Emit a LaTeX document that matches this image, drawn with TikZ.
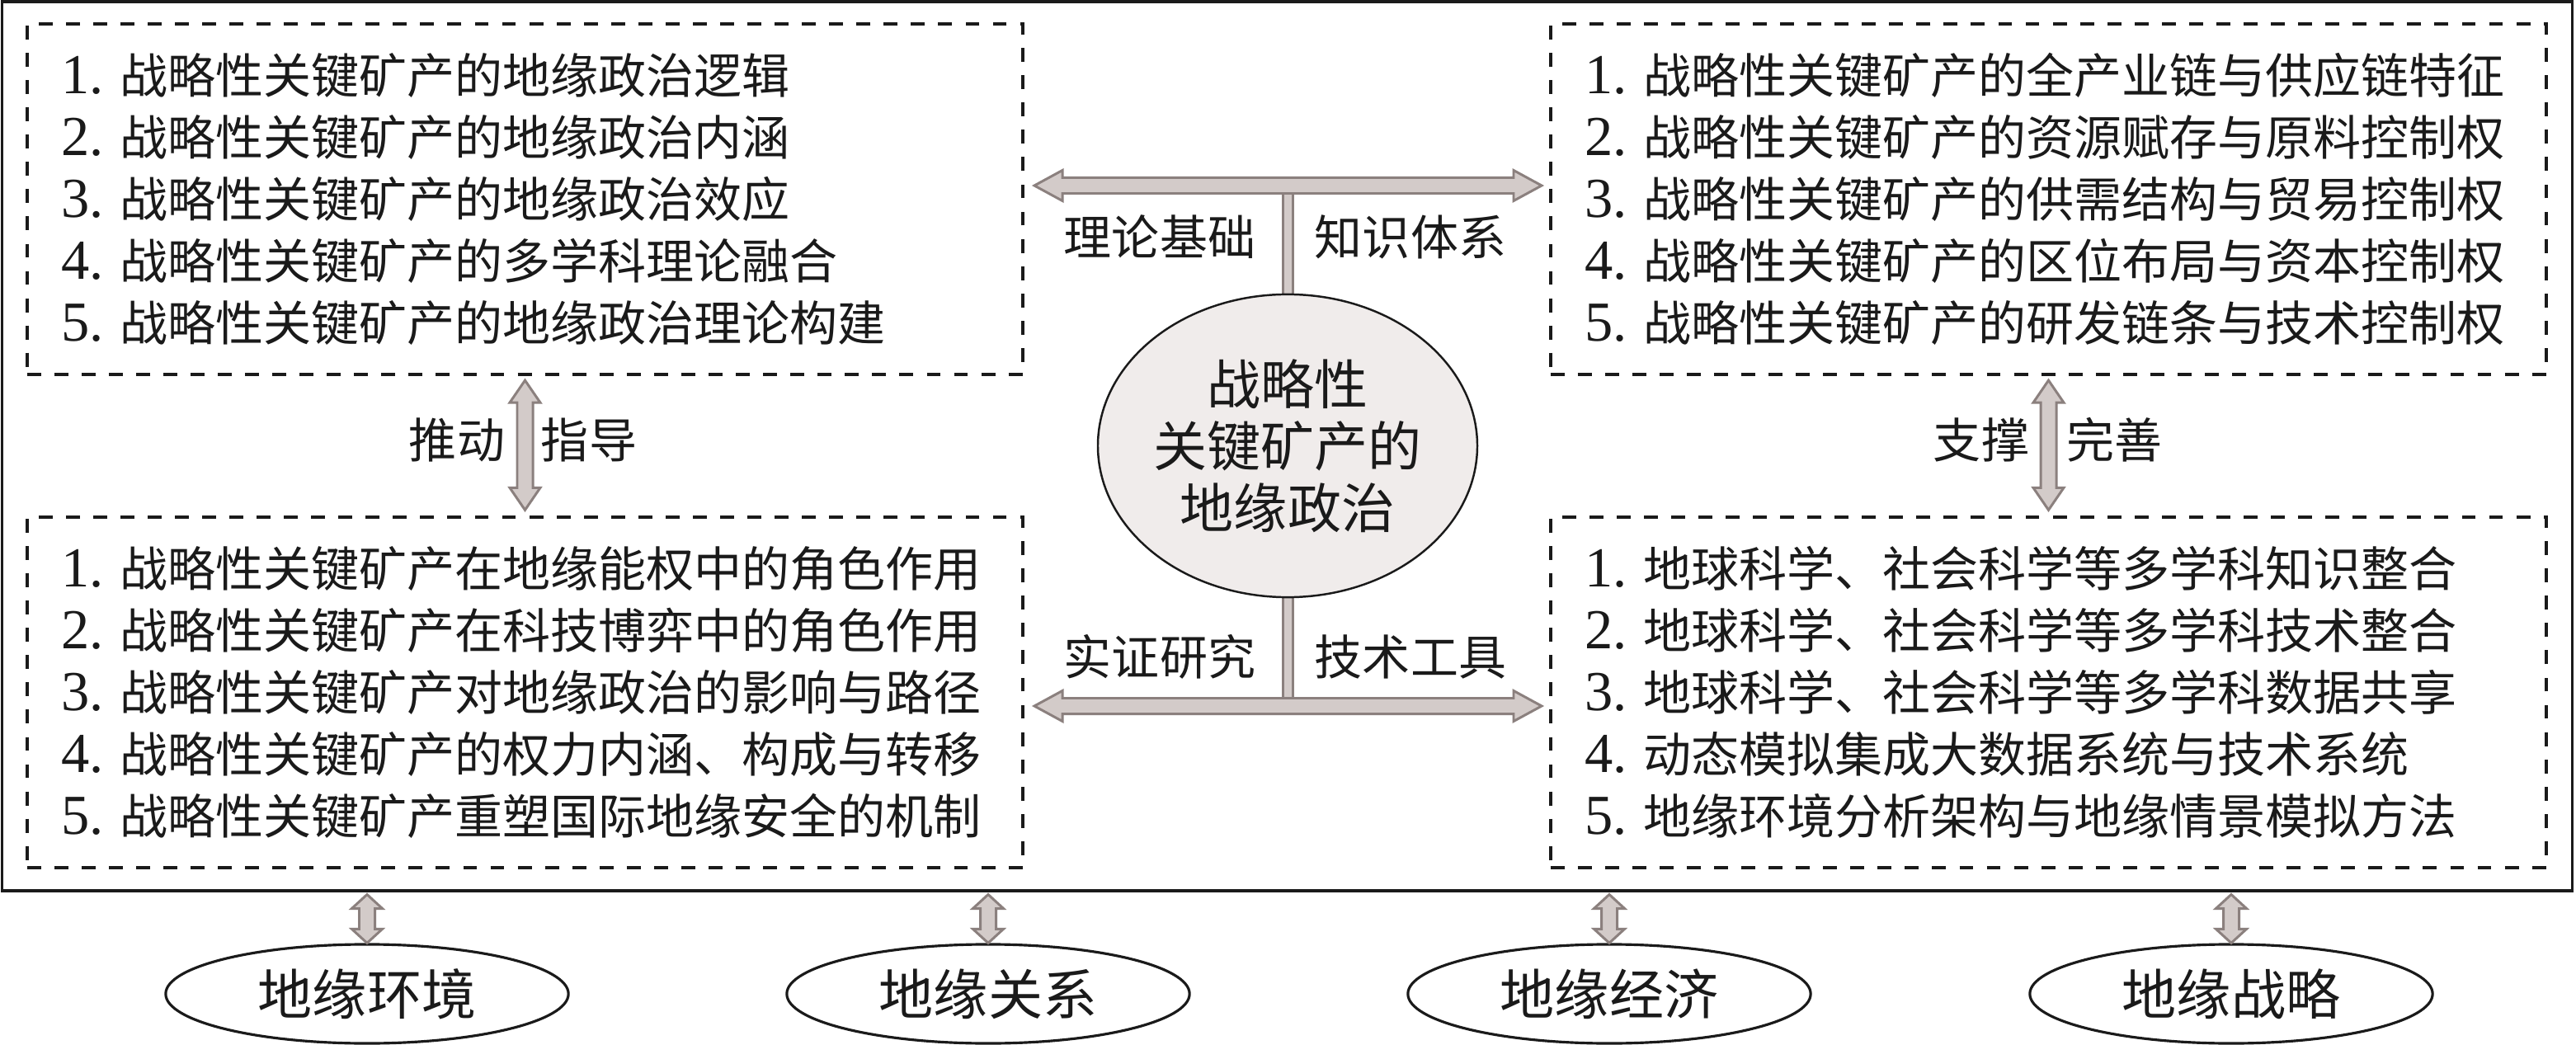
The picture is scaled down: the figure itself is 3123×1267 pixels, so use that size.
\documentclass[tikz,border=0pt]{standalone}
\usepackage{fontspec}
\setmainfont{Noto Sans CJK SC}
\newfontfamily\latin[Scale=1.18]{Liberation Serif}
\usetikzlibrary{calc,shapes.geometric}

\definecolor{arrowfill}{RGB}{211,203,201}
\definecolor{arrowline}{RGB}{139,128,126}
\definecolor{hubfill}{RGB}{240,236,235}
\definecolor{ink}{RGB}{26,26,26}

\newcommand{\no}[1]{{\latin #1.~}}
\newcommand{\headw}{0.185cm}
\newcommand{\shaftw}{0.095cm}
\newcommand{\fatarrow}[3]{%
  \filldraw[fatarrow] (#2)
    -- ($(#2)!#1!(#3)!\headw!90:(#3)$)
    -- ($(#2)!#1!(#3)!\shaftw!90:(#3)$)
    -- ($(#3)!#1!(#2)!\shaftw!270:(#2)$)
    -- ($(#3)!#1!(#2)!\headw!270:(#2)$)
    -- (#3)
    -- ($(#3)!#1!(#2)!\headw!90:(#2)$)
    -- ($(#3)!#1!(#2)!\shaftw!90:(#2)$)
    -- ($(#2)!#1!(#3)!\shaftw!270:(#3)$)
    -- ($(#2)!#1!(#3)!\headw!270:(#3)$)
    -- cycle;}

\tikzset{
  listbox/.style={draw=ink, line width=1.15pt, dash pattern=on 4.8pt off 4.6pt,
    minimum width=12.07cm, minimum height=4.25cm, text width=11.23cm,
    inner xsep=0.42cm, align=left, text=ink,
    font=\fontsize{16.5pt}{21.34pt}\selectfont},
  hub/.style={ellipse, draw=ink, line width=0.7pt, fill=hubfill,
    minimum width=3.99cm, minimum height=3.67cm, inner sep=0pt, align=center,
    text=ink, font=\fontsize{18.5pt}{21.34pt}\selectfont},
  geo/.style={ellipse, draw=ink, line width=0.9pt, minimum width=4.88cm,
    minimum height=1.2cm, inner sep=0pt, text=ink,
    font=\fontsize{18.8pt}{22pt}\selectfont},
  linktext/.style={inner sep=0pt, text=ink, font=\fontsize{16.5pt}{20pt}\selectfont},
  fatarrow/.style={fill=arrowfill, draw=arrowline, line width=0.85pt}
}

\begin{document}
\begin{tikzpicture}[x=0.01cm, y=-0.01cm]
\useasboundingbox (0,0) rectangle (3123,1267);

\draw[ink, line width=1pt] (2.5,2) rectangle (3118.5,1080);
\coordinate (fb) at (0,1080);

\node[listbox] (tl) at (636.5,241.5) {\no{1}战略性关键矿产的地缘政治逻辑\\
  \no{2}战略性关键矿产的地缘政治内涵\\
  \no{3}战略性关键矿产的地缘政治效应\\
  \no{4}战略性关键矿产的多学科理论融合\\
  \no{5}战略性关键矿产的地缘政治理论构建};
\node[listbox] (tr) at (2483.5,241.5) {\no{1}战略性关键矿产的全产业链与供应链特征\\
  \no{2}战略性关键矿产的资源赋存与原料控制权\\
  \no{3}战略性关键矿产的供需结构与贸易控制权\\
  \no{4}战略性关键矿产的区位布局与资本控制权\\
  \no{5}战略性关键矿产的研发链条与技术控制权};
\node[listbox] (bl) at (636.5,839.5) {\no{1}战略性关键矿产在地缘能权中的角色作用\\
  \no{2}战略性关键矿产在科技博弈中的角色作用\\
  \no{3}战略性关键矿产对地缘政治的影响与路径\\
  \no{4}战略性关键矿产的权力内涵、构成与转移\\
  \no{5}战略性关键矿产重塑国际地缘安全的机制};
\node[listbox] (br) at (2483.5,839.5) {\no{1}地球科学、社会科学等多学科知识整合\\
  \no{2}地球科学、社会科学等多学科技术整合\\
  \no{3}地球科学、社会科学等多学科数据共享\\
  \no{4}动态模拟集成大数据系统与技术系统\\
  \no{5}地缘环境分析架构与地缘情景模拟方法};

\coordinate (c) at (1561,540.5);
\coordinate (tw) at (1254,225);
\coordinate (te) at (1869,225);
\coordinate (bw) at (1254,856);
\coordinate (be) at (1869,856);

\filldraw[fatarrow] ($(c)+(-6,0)$) rectangle ($(c |- tw)+(6,0)$);
\filldraw[fatarrow] ($(c)+(-6,0)$) rectangle ($(c |- bw)+(6,0)$);
\fatarrow{0.34cm}{tw}{te}
\fatarrow{0.34cm}{bw}{be}

\node[hub] (hub) at (c) {战略性\\关键矿产的\\地缘政治};

\coordinate (tls) at ($(tl.south)+(0,5)$);
\coordinate (bln) at ($(bl.north)+(0,-6.5)$);
\coordinate (trs) at ($(tr.south)+(0,5)$);
\coordinate (brn) at ($(br.north)+(0,-6.5)$);
\fatarrow{0.27cm}{tls}{bln}
\fatarrow{0.27cm}{trs}{brn}

\node[linktext] (basis) at (1406,287) {理论基础};
\node[linktext] (system) at (1710,287) {知识体系};
\node[linktext] (study) at (1406,796) {实证研究};
\node[linktext] (tools) at (1710,796) {技术工具};
\node[linktext] (push) at (554,533) {推动};
\node[linktext] (guide) at (714,533) {指导};
\node[linktext] (back) at (2402,533) {支撑};
\node[linktext] (refine) at (2563,533) {完善};

\foreach \n/\x/\t in {1/445/地缘环境, 2/1198/地缘关系, 3/1951/地缘经济, 4/2705/地缘战略} {
  \node[geo] (e\n) at (\x,1205) {\t};
  \coordinate (f\n) at ($(e\n.north |- fb)+(0,4.5)$);
  \fatarrow{0.17cm}{f\n}{e\n.north}
}

\end{tikzpicture}
\end{document}
